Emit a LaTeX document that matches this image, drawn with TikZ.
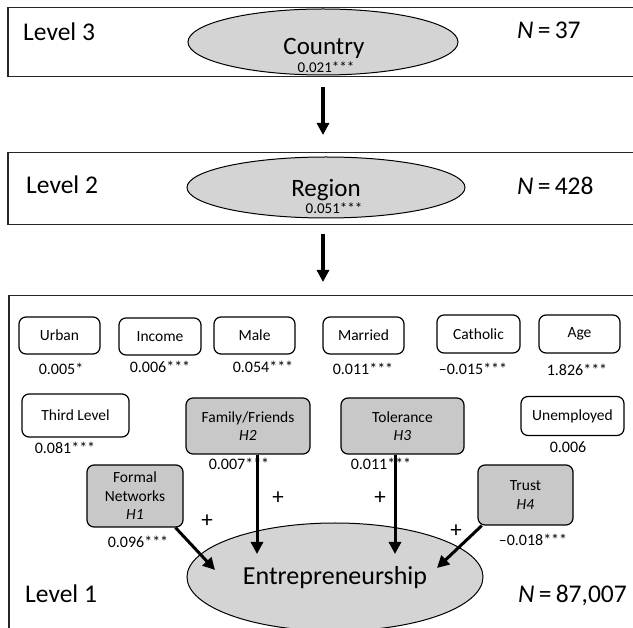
\documentclass[tikz,border=0pt]{standalone}
\usepackage{fontspec}
\setmainfont{Carlito}
\usetikzlibrary{arrows.meta,shapes.geometric}
\definecolor{ellfill}{RGB}{212,212,212}
\definecolor{boxfill}{RGB}{200,200,200}
\newcommand{\fs}[2]{\fontsize{#1}{#2}\selectfont}
\begin{document}
\begin{tikzpicture}[x=1pt,y=-1pt,
  levelbox/.style={draw=black!85, line width=1.5pt, inner sep=0pt, anchor=north west},
  ell/.style={ellipse, draw, fill=ellfill, line width=1pt, inner sep=0pt},
  var/.style={draw, rounded corners=7pt, line width=1.2pt, fill=white, inner sep=0pt, font=\fs{15.5}{18.5}, align=center},
  hyp/.style={var, fill=boxfill},
  val/.style={font=\fs{16}{19}, inner sep=0pt},
  eval/.style={font=\fs{15}{17}, inner sep=0pt, anchor=base},
  big/.style={font=\fs{25.5}{30}, inner sep=0pt, anchor=base west},
  ename/.style={font=\fs{25}{30}, inner sep=0pt, anchor=base},
  larr/.style={-{Triangle[length=12pt,width=12pt]}, line width=3.5pt},
  arr/.style={-{Triangle[length=12pt,width=12pt]}, line width=3pt},
  plus/.style={font=\fs{23}{24}, inner sep=0pt}]
\useasboundingbox (0,0) rectangle (633,628);

% Level boxes
\node[levelbox, minimum width=640pt, minimum height=69pt] (L3) at (7,7) {};
\node[levelbox, minimum width=640pt, minimum height=72pt] (L2) at (7,152) {};
\node[levelbox, minimum width=640pt, minimum height=350pt] (L1) at (8,295) {};

% Level 3
\node[ell, minimum width=270pt, minimum height=66pt] (country) at (323,42) {};
\node[ename] (countrytxt) at (324,55) {Country};
\node[eval] (countryval) at (326,73) {0.021***};
\node[big] (lev3) at (23,41) {Level 3};
\node[big] (n3) at (517,39) {\textit{N}\,=\,37};

% Level 2
\node[ell, minimum width=278pt, minimum height=61pt] (region) at (326,187.5) {};
\node[ename] (regiontxt) at (326,197) {Region};
\node[eval] (regionval) at (334,214) {0.051***};
\node[big] (lev2) at (26,194) {Level 2};
\node[big] (n2) at (517,195) {\textit{N}\,=\,428};

% Level arrows
\draw[larr, shorten <=10pt, shorten >=17pt] (L3.south -| country.south) -- (L2.north -| country.south);
\draw[larr, shorten <=9pt, shorten >=13pt] (L2.south -| country.south) -- (L1.north -| country.south);

% Level 1 controls
\node[var, minimum width=81pt, minimum height=37pt] (urban) at (59.5,335.5) {Urban};
\node[var, minimum width=82pt, minimum height=37pt] (income) at (160,336.5) {Income};
\node[var, minimum width=81pt, minimum height=37pt] (male) at (254.5,335.5) {Male};
\node[var, minimum width=81pt, minimum height=37pt] (married) at (363.5,335.5) {Married};
\node[var, minimum width=83pt, minimum height=38pt] (catholic) at (478.5,334) {Catholic};
\node[var, minimum width=81pt, minimum height=38pt] (age) at (579.5,334) {Age};

\node[val] (urbanv) at (61,369) {0.005*};
\node[val] (incomev) at (160,367) {0.006***};
\node[val] (malev) at (263,367) {0.054***};
\node[val] (marriedv) at (363,369) {0.011***};
\node[val] (catholicv) at (473,369) {–0.015***};
\node[val] (agev) at (577,370) {1.826***};

\node[var, minimum width=107pt, minimum height=43pt] (third) at (75.5,415.5) {Third Level};
\node[val] (thirdv) at (65,448) {0.081***};
\node[var, minimum width=103pt, minimum height=39pt] (unemp) at (572.5,416) {Unemployed};
\node[val] (unempv) at (568,447) {0.006};

% Hypotheses
\node[hyp, minimum width=124pt, minimum height=56pt] (ff) at (248,426) {Family/Friends\\\textit{H2}};
\node[val] (ffv) at (239,464) {0.007***};
\node[hyp, minimum width=123pt, minimum height=56pt] (tol) at (402.5,426) {Tolerance\\\textit{H3}};
\node[val] (tolv) at (381,464) {0.011***};
\node[hyp, minimum width=96pt, minimum height=62pt] (fn) at (135,496) {Formal\\Networks\\\textit{H1}};
\node[val] (fnv) at (138,542) {0.096***};
\node[hyp, minimum width=95pt, minimum height=60pt] (trust) at (525.5,495) {Trust\\\textit{H4}};
\node[val] (trustv) at (533,540) {–0.018***};

% Outcome
\node[ell, minimum width=296pt, minimum height=108pt] (ent) at (335,577) {};
\node[font=\fs{26}{30}, inner sep=0pt, anchor=base] (enttxt) at (335,585) {Entrepreneurship};
\node[big] (lev1) at (25,603) {Level 1};
\node[big] (n1) at (518,603) {\textit{N}\,=\,87,007};

% Hypothesis arrows
\coordinate (t1) at (215,570);
\coordinate (t2) at (257,554);
\coordinate (t3) at (395,554);
\coordinate (t4) at (437,568);
\draw[arr] (fn.-38) -- (t1);
\draw[arr] (ff.south -| t2) -- (t2);
\draw[arr] (tol.south -| t3) -- (t3);
\draw[arr] (trust.-145) -- (t4);

\node[plus] (p1) at (207,521) {+};
\node[plus] (p2) at (278,498) {+};
\node[plus] (p3) at (380,498) {+};
\node[plus] (p4) at (456,531) {+};
\end{tikzpicture}
\end{document}
